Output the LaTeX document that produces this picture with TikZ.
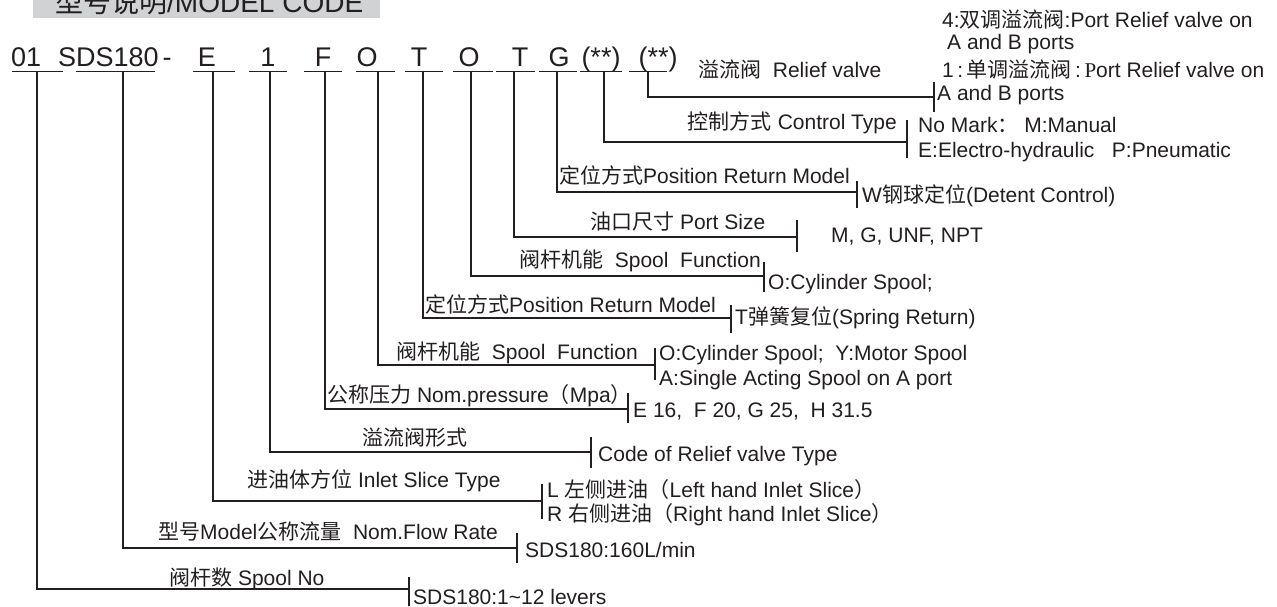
\documentclass[tikz,border=0pt]{standalone}
\usepackage{fontspec}
\setmainfont{Liberation Sans}
\newfontfamily\cjk{Noto Sans CJK SC}
\newfontfamily\lserif{Liberation Serif}
\newcommand\zh[1]{{\cjk #1}}
\definecolor{ink}{HTML}{231F20}
\definecolor{titlegray}{HTML}{D1D2D4}
\begin{document}
\begin{tikzpicture}[x=1pt,y=-1pt,
  lbl/.style={anchor=base west,inner sep=0pt,text=ink,font=\fontsize{21}{24}\selectfont},
  lblr/.style={anchor=base east,inner sep=0pt,text=ink,font=\fontsize{21}{24}\selectfont},
  code/.style={anchor=base,inner sep=0pt,text=ink,font=\fontsize{27}{30}\selectfont},
  uline/.style={line width=1.4pt,ink},
  conn/.style={line width=1.8pt,ink},
  barl/.style={line width=1.3pt,ink}]
\useasboundingbox (0,0) rectangle (1277,606);
\clip (0,0) rectangle (1277,606);
\fill[white] (0,0) rectangle (1277,606);
% title
\fill[titlegray] (33,0) rectangle (380,18);
\node[anchor=base west,inner sep=0pt,text=ink,font=\fontsize{28}{32}\selectfont] (title) at (55,12) {\zh{型号说明}/MODEL CODE};
% code row
\node[code,anchor=base west] (c01) at (11,66.5) {01};
\node[code,anchor=base west] (csds) at (58,66.5) {SDS180\kern4pt-};
\node[code] (cE) at (207,66.5) {E};
\node[code] (c1) at (268,66.5) {1};
\node[code] (cF) at (323,66.5) {F};
\node[code] (cO1) at (367,66.5) {O};
\node[code] (cT1) at (419,66.5) {T};
\node[code] (cO2) at (469,66.5) {O};
\node[code] (cT2) at (520,66.5) {T};
\node[code] (cG) at (559,66.5) {G};
\node[code] (cs1) at (601,66.5) {(**)};
\node[code] (cs2) at (658,66.5) {(**)};
% underlines
\foreach \a/\b in {12/63,76/155,193/235,249/287,304/342,356/395,405/443,453/493,496/535,539/577,580/622,629/667}
  \draw[uline] (\a,71.5) -- (\b,71.5);
% tick coordinates
\coordinate (t12) at (648,71.5);
\coordinate (t11) at (604,71.5);
\coordinate (t10) at (557,71.5);
\coordinate (t9) at (514,71.5);
\coordinate (t8) at (471,71.5);
\coordinate (t7) at (423,71.5);
\coordinate (t6) at (378,71.5);
\coordinate (t5) at (325,71.5);
\coordinate (t4) at (270,71.5);
\coordinate (t3) at (213,71.5);
\coordinate (t2) at (123,71.5);
\coordinate (t1) at (37,71.5);
% bar end coordinates
\coordinate (e12) at (934,97);
\coordinate (e11) at (907,142);
\coordinate (e10) at (857,192);
\coordinate (e9) at (797,237);
\coordinate (e8) at (764,276);
\coordinate (e7) at (731,318);
\coordinate (e6) at (655,365);
\coordinate (e5) at (628,409);
\coordinate (e4) at (591,452);
\coordinate (e3) at (542,501);
\coordinate (e2) at (517,548);
\coordinate (e1) at (409,589);
\foreach \i in {1,...,12} \draw[conn] (t\i) |- (e\i);
% bars
\draw[barl] (934,82) -- (934,112);
\draw[barl] (907,120) -- (907,158);
\draw[barl] (857,181) -- (857,208);
\draw[barl] (797,220) -- (797,252);
\draw[barl] (764,262) -- (764,292);
\draw[barl] (731,305) -- (731,333);
\draw[barl] (655,348) -- (655,380);
\draw[barl] (628,393) -- (628,423);
\draw[barl] (591,437) -- (591,468);
\draw[barl] (542,484) -- (542,519);
\draw[barl] (517,533) -- (517,563);
\draw[barl] (409,577) -- (409,606);
% labels
\node[lbl] (l12) at (698,77) {\zh{溢流阀}\ \ Relief valve};
\node[lblr] (l11) at (897,129) {\zh{控制方式} Control Type};
\node[lbl] (l10) at (559,183) {\zh{定位方式}Position Return Model};
\node[lbl] (l9) at (590,229) {\zh{油口尺寸} Port Size};
\node[lbl] (l8) at (519,267) {\zh{阀杆机能}\ \ Spool\ \ Function};
\node[lbl] (l7) at (425,312) {\zh{定位方式}Position Return Model};
\node[lbl] (l6) at (396,359) {\zh{阀杆机能}\ \ Spool\ \ Function};
\node[lbl] (l5) at (327,402) {\zh{公称压力} Nom.pressure\zh{（}Mpa\zh{）}};
\node[lbl] (l4) at (362,445) {\zh{溢流阀形式}};
\node[lbl] (l3) at (247,487) {\zh{进油体方位} Inlet Slice Type};
\node[lbl] (l2) at (158,539) {\zh{型号}Model\zh{公称流量}\ \ Nom.Flow Rate};
\node[lbl] (l1) at (169,585) {\zh{阀杆数} Spool No};
% option texts
\node[lbl] (o12a) at (942,27) {4:\zh{双调溢流阀}:Port Relief valve on};
\node[lbl] (o12b) at (947,49) {A and B ports};
\node[lbl] (o12c) at (942,77) {1\,:\,\zh{单调溢流阀}\,:\,{\lserif P}ort Relief valve on};
\node[lbl] (o12d) at (937,100) {A and B ports};
\node[lbl] (o11a) at (918,132) {No Mark\zh{：} M:Manual};
\node[lbl] (o11b) at (918,157) {E:Electro-hydraulic\ \ \ P:Pneumatic};
\node[lbl] (o10) at (862,202) {W\zh{钢球定位}(Detent Control)};
\node[lbl] (o9) at (831,242) {M, G, UNF, NPT};
\node[lbl] (o8) at (768,289) {O:Cylinder Spool;};
\node[lbl] (o7) at (735,324) {T\zh{弹簧复位}(Spring Return)};
\node[lbl] (o6a) at (659,360) {O:Cylinder Spool;\ \ Y:Motor Spool};
\node[lbl] (o6b) at (659,385) {A:Single Acting Spool on A port};
\node[lbl] (o5) at (633,417) {E 16,\ \ F 20, G 25,\ \ H 31.5};
\node[lbl] (o4) at (598,461) {Code of Relief valve Type};
\node[lbl] (o3a) at (547,497) {L \zh{左侧进油（}Left hand Inlet Slice\zh{）}};
\node[lbl] (o3b) at (547,521) {R \zh{右侧进油（}Right hand Inlet Slice\zh{）}};
\node[lbl] (o2) at (525,557) {SDS180:160L/min};
\node[lbl] (o1) at (413,604) {SDS180:1\textasciitilde 12 levers};
\end{tikzpicture}
\end{document}
